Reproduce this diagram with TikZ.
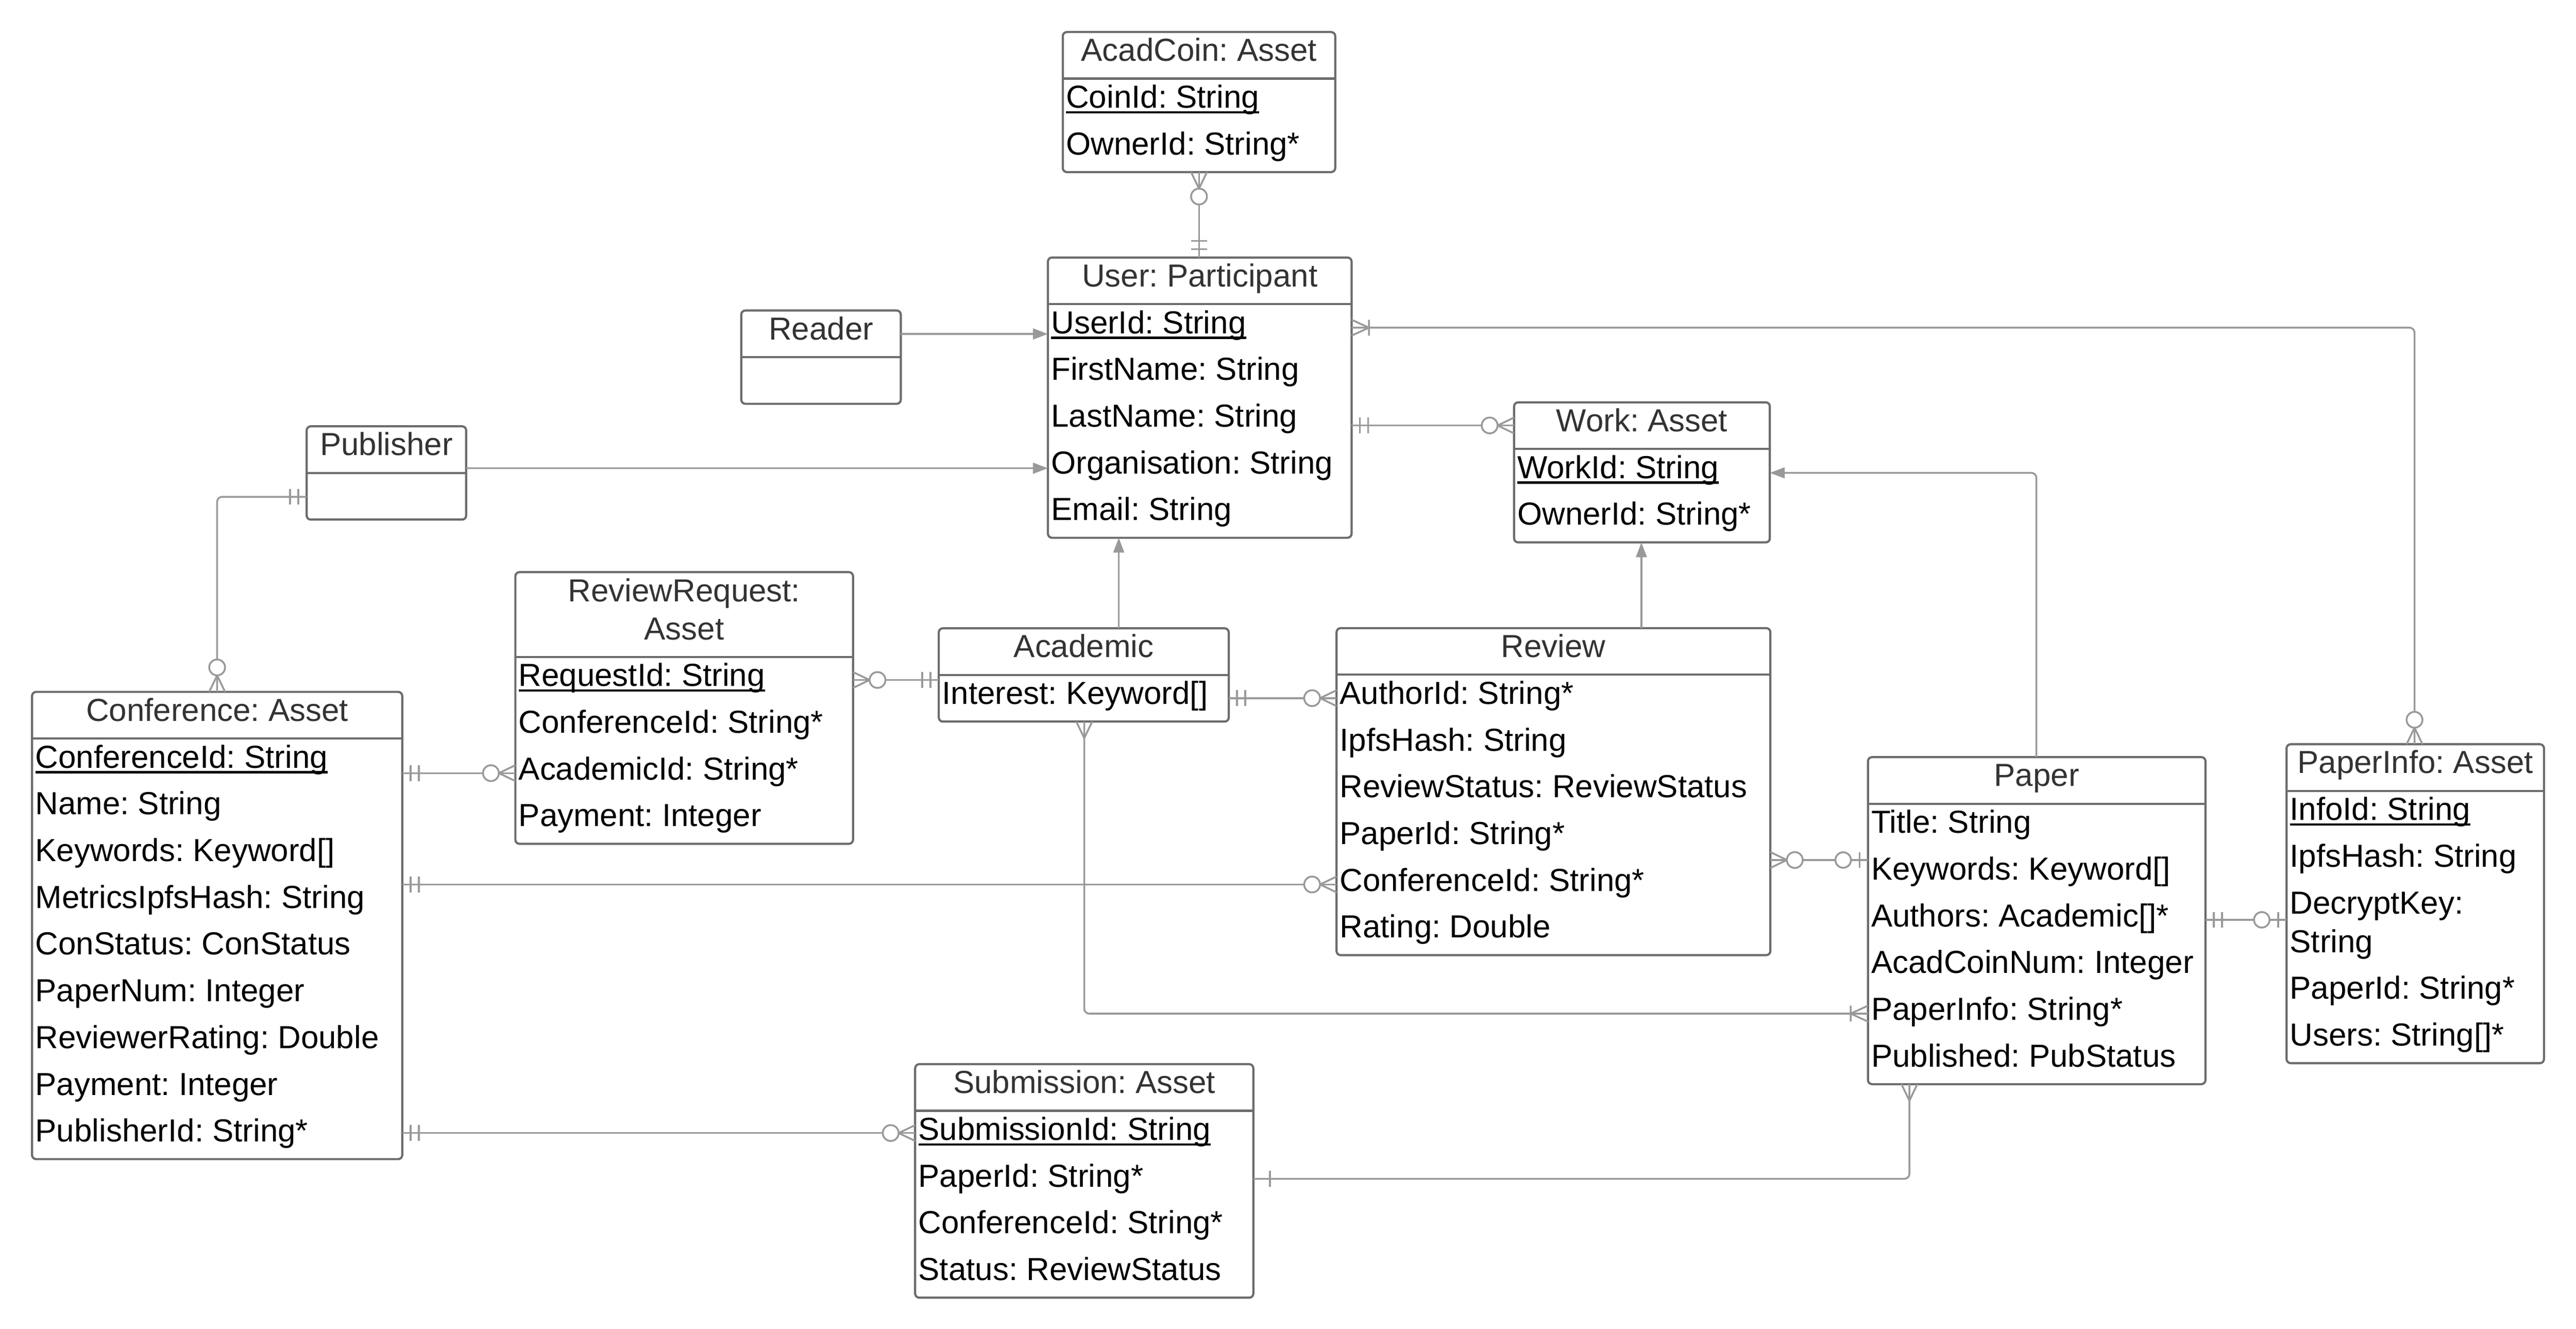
\documentclass[tikz,border=0pt]{standalone}
\usepackage{fontspec}
\setmainfont{Liberation Sans}
\usetikzlibrary{arrows.meta,fit}
\definecolor{conncol}{RGB}{153,153,153}
\definecolor{boxcol}{RGB}{108,108,108}
\definecolor{hdrcol}{RGB}{51,51,51}
\frenchspacing
\tikzset{
  ebox/.style={draw=boxcol, line width=1.3pt, rounded corners=2.5pt, inner sep=0pt, outer sep=0pt},
  ediv/.style={draw=boxcol, line width=1.3pt},
  hdr/.style={anchor=base, inner sep=0pt, outer sep=0pt, text=hdrcol, font=\fontsize{19.3}{23}\selectfont\frenchspacing},
  atxt/.style={anchor=base west, inner sep=0pt, outer sep=0pt, text=black, font=\fontsize{19.3}{23}\selectfont\frenchspacing},
  uline/.style={draw=black, line width=1.4pt},
  conn/.style={draw=conncol, line width=1.1pt, rounded corners=3pt},
  arr/.style={-{Triangle[length=9pt,width=6.5pt]}, color=conncol},
  mk/.style={draw=conncol, line width=1.1pt},
  pics/oneonly/.style={code={\draw[mk] (5,-4.8)--(5,4.8) (10,-4.8)--(10,4.8);}},
  pics/onebar/.style={code={\draw[mk] (10,-4.8)--(10,4.8);}},
  pics/many/.style={code={\draw[mk] (0,-4.8)--(10,0)--(0,4.8);}},
  pics/onemany/.style={code={\draw[mk] (0,-4.8)--(10.5,0)--(0,4.8) (10.5,-4.8)--(10.5,4.8);}},
  pics/zmany/.style={code={\draw[mk] (0,-4.8)--(10,0)--(0,4.8); \draw[mk,fill=white] (14.8,0) circle[radius=4.8];}},
  pics/zone/.style={code={\draw[mk] (5,-4.8)--(5,4.8); \draw[mk,fill=white] (15,0) circle[radius=4.7];}},
}
% #1 name, #2 L, #3 T, #4 R, #5 header height, #6 body rows, #7 header
\newcommand\ent[7]{%
  \pgfmathsetmacro\eB{#3+#5+28.3*#6}%
  \pgfmathsetmacro\eD{#3+#5}%
  \pgfmathsetmacro\eH{#3+17.7}%
  \pgfmathsetmacro\eM{(#2+#4)/2}%
  \node[ebox, fit={(#2,#3) (#4,\eB)}] (#1) {};
  \coordinate (#1-d) at (#2,\eD);
  \draw[ediv] (#2,\eD) -- (#4,\eD);
  \node[hdr] (#1-h) at (\eM,\eH) {#7};
}
% #1 entity, #2 row index, #3 node name, #4 text
\newcommand\attr[4]{%
  \pgfmathsetmacro\aY{17.8+28.3*(#2-1)}%
  \node[atxt] (#3) at ([xshift=2pt,yshift=-\aY pt]#1-d) {#4};
}
\newcommand\ulin[1]{\draw[uline] ([yshift=-2.6pt]#1.base west) -- ([yshift=-2.6pt]#1.base east);}
\begin{document}
\begin{tikzpicture}[x=1pt,y=-1pt]
\useasboundingbox (0,0) rectangle (1560,804.45);

% ---------- entities ----------
\ent{acad}{643.6}{19.4}{808.6}{28.2}{2}{AcadCoin: Asset}
\attr{acad}{1}{acad1}{CoinId: String}\ulin{acad1}
\attr{acad}{2}{acad2}{OwnerId: String*}

\ent{user}{634.6}{155.9}{818.5}{28.2}{5}{User: Participant}
\attr{user}{1}{user1}{UserId: String}\ulin{user1}
\attr{user}{2}{user2}{FirstName: String}
\attr{user}{3}{user3}{LastName: String}
\attr{user}{4}{user4}{Organisation: String}
\attr{user}{5}{user5}{Email: String}

\ent{reader}{448.9}{188.0}{545.5}{28.2}{1}{Reader}
\ent{pub}{185.7}{258.1}{282.3}{28.2}{1}{Publisher}

\ent{work}{916.9}{243.6}{1071.8}{28.2}{2}{Work: Asset}
\attr{work}{1}{work1}{WorkId: String}\ulin{work1}
\attr{work}{2}{work2}{OwnerId: String*}

\ent{rr}{312.1}{346.4}{516.6}{51.3}{4}{}
\node[hdr] (rr-h1) at (414.35,364.3) {ReviewRequest:};
\node[hdr] (rr-h2) at (414.35,387.3) {Asset};
\attr{rr}{1}{rr1}{RequestId: String}\ulin{rr1}
\attr{rr}{2}{rr2}{ConferenceId: String*}
\attr{rr}{3}{rr3}{AcademicId: String*}
\attr{rr}{4}{rr4}{Payment: Integer}

\ent{acm}{568.5}{380.4}{744.1}{28.2}{1}{Academic}
\attr{acm}{1}{acm1}{Interest: Keyword[]}

\ent{rev}{809.4}{380.3}{1072.1}{28.2}{6}{Review}
\attr{rev}{1}{rev1}{AuthorId: String*}
\attr{rev}{2}{rev2}{IpfsHash: String}
\attr{rev}{3}{rev3}{ReviewStatus: ReviewStatus}
\attr{rev}{4}{rev4}{PaperId: String*}
\attr{rev}{5}{rev5}{ConferenceId: String*}
\attr{rev}{6}{rev6}{Rating: Double}

\ent{conf}{19.4}{418.9}{243.6}{28.2}{9}{Conference: Asset}
\attr{conf}{1}{conf1}{ConferenceId: String}\ulin{conf1}
\attr{conf}{2}{conf2}{Name: String}
\attr{conf}{3}{conf3}{Keywords: Keyword[]}
\attr{conf}{4}{conf4}{MetricsIpfsHash: String}
\attr{conf}{5}{conf5}{ConStatus: ConStatus}
\attr{conf}{6}{conf6}{PaperNum: Integer}
\attr{conf}{7}{conf7}{ReviewerRating: Double}
\attr{conf}{8}{conf8}{Payment: Integer}
\attr{conf}{9}{conf9}{PublisherId: String*}

\ent{paper}{1131.2}{458.4}{1335.6}{28.2}{6}{Paper}
\attr{paper}{1}{paper1}{Title: String}
\attr{paper}{2}{paper2}{Keywords: Keyword[]}
\attr{paper}{3}{paper3}{Authors: Academic[]*}
\attr{paper}{4}{paper4}{AcadCoinNum: Integer}
\attr{paper}{5}{paper5}{PaperInfo: String*}
\attr{paper}{6}{paper6}{Published: PubStatus}

\ent{pinfo}{1384.7}{450.6}{1540.6}{28.2}{5.827}{PaperInfo: Asset}
\attr{pinfo}{1}{pinfo1}{InfoId: String}\ulin{pinfo1}
\attr{pinfo}{2}{pinfo2}{IpfsHash: String}
\attr{pinfo}{3}{pinfo3}{DecryptKey:}
\attr{pinfo}{3.827}{pinfo3b}{String}
\attr{pinfo}{4.827}{pinfo4}{PaperId: String*}
\attr{pinfo}{5.827}{pinfo5}{Users: String[]*}

\ent{sub}{554.2}{644.3}{759.0}{28.2}{4}{Submission: Asset}
\attr{sub}{1}{sub1}{SubmissionId: String}\ulin{sub1}
\attr{sub}{2}{sub2}{PaperId: String*}
\attr{sub}{3}{sub3}{ConferenceId: String*}
\attr{sub}{4}{sub4}{Status: ReviewStatus}

% ---------- attachment points ----------
\coordinate (rdA) at ([yshift=-14.2pt]reader.north east);
\coordinate (pbA) at ([yshift=-25.4pt]pub.north east);
\coordinate (pbB) at ([yshift=-42.7pt]pub.north west);
\coordinate (cfA) at ([xshift=112.1pt]conf.north west);
\coordinate (acA) at ([xshift=109pt]acm.north west);
\coordinate (rvA) at ([xshift=184.6pt]rev.north west);
\coordinate (ppA) at ([xshift=102pt]paper.north west);
\coordinate (wkA) at ([yshift=-42.7pt]work.north east);
\coordinate (usA) at ([yshift=-42.5pt]user.north east);
\coordinate (piA) at ([xshift=77.5pt]pinfo.north west);
\coordinate (usB) at ([yshift=-101.7pt]user.north east);
\coordinate (rrA) at ([yshift=-65.3pt]rr.north east);
\coordinate (acB) at ([yshift=-42.3pt]acm.north east);
\coordinate (cfB) at ([yshift=-49.2pt]conf.north east);
\coordinate (cfC) at ([yshift=-116.6pt]conf.north east);
\coordinate (rvB) at ([yshift=-140.4pt]rev.north east);
\coordinate (acC) at ([xshift=88.1pt]acm.south west);
\coordinate (ppB) at ([yshift=-155.3pt]paper.north west);
\coordinate (ppC) at ([yshift=-98.5pt]paper.north east);
\coordinate (cfD) at ([yshift=-267.1pt]conf.north east);
\coordinate (ppD) at ([xshift=25.1pt]paper.south west);
\coordinate (sbA) at ([yshift=-69.4pt]sub.north east);

% ---------- connectors ----------
\draw[conn] (acad.south) -- (acad.south |- user.north);
\draw[conn,arr] (rdA) -- (rdA -| user.west);
\draw[conn,arr] (pbA) -- (pbA -| user.west);
\draw[conn,arr] (acA) -- (acA |- user.south);
\draw[conn,arr] (rvA) -- (rvA |- work.south);
\draw[conn,arr] (ppA) |- (wkA);
\draw[conn] (usA) -| (piA);
\draw[conn] (usB) -- (usB -| work.west);
\draw[conn] (pbB) -| (cfA);
\draw[conn] (rrA) -- (rrA -| acm.west);
\draw[conn] (acB) -- (acB -| rev.west);
\draw[conn] (cfB) -- (cfB -| rr.west);
\draw[conn] (cfC) -- (cfC -| rev.west);
\draw[conn] (rvB) -- (rvB -| paper.west);
\draw[conn] (acC) |- (ppB);
\draw[conn] (ppC) -- (ppC -| pinfo.west);
\draw[conn] (cfD) -- (cfD -| sub.west);
\draw[conn] (ppD) |- (sbA);

% ---------- cardinality marks ----------
\pic[rotate=-90] at (acad.south) {zmany};
\pic[rotate=90] at (acad.south |- user.north) {oneonly};
\pic[rotate=0] at (usA) {onemany};
\pic[rotate=90] at (piA) {zmany};
\pic[rotate=0] at (usB) {oneonly};
\pic[rotate=180] at (usB -| work.west) {zmany};
\pic[rotate=180] at (pbB) {oneonly};
\pic[rotate=90] at (cfA) {zmany};
\pic[rotate=0] at (rrA) {zmany};
\pic[rotate=180] at (rrA -| acm.west) {oneonly};
\pic[rotate=0] at (acB) {oneonly};
\pic[rotate=180] at (acB -| rev.west) {zmany};
\pic[rotate=0] at (cfB) {oneonly};
\pic[rotate=180] at (cfB -| rr.west) {zmany};
\pic[rotate=0] at (cfC) {oneonly};
\pic[rotate=180] at (cfC -| rev.west) {zmany};
\pic[rotate=0] at (rvB) {zmany};
\pic[rotate=180] at (rvB -| paper.west) {zone};
\pic[rotate=-90] at (acC) {many};
\pic[rotate=180] at (ppB) {onemany};
\pic[rotate=0] at (ppC) {oneonly};
\pic[rotate=180] at (ppC -| pinfo.west) {zone};
\pic[rotate=0] at (cfD) {oneonly};
\pic[rotate=180] at (cfD -| sub.west) {zmany};
\pic[rotate=-90] at (ppD) {many};
\pic[rotate=0] at (sbA) {onebar};
\end{tikzpicture}
\end{document}
